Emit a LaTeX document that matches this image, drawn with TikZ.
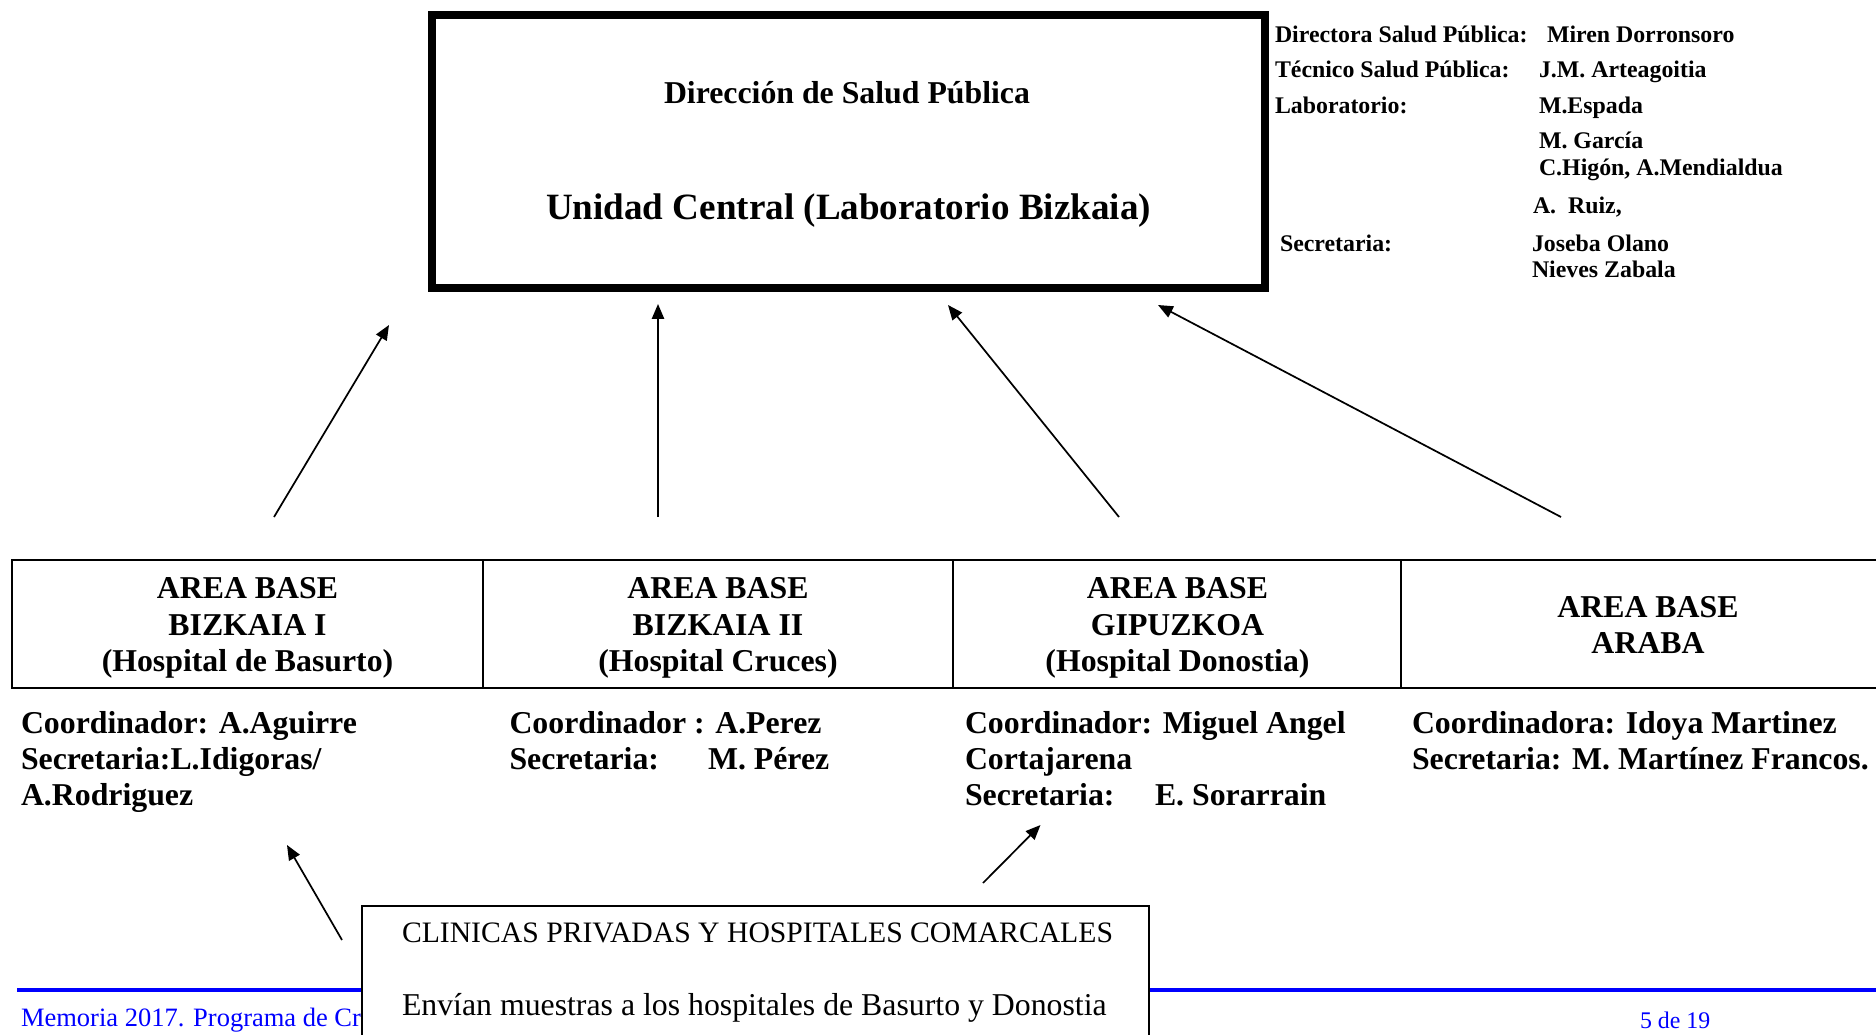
\documentclass[tikz,border=0pt]{standalone}
\usepackage{fontspec}
\setmainfont{Liberation Serif}
\usetikzlibrary{arrows.meta}
\definecolor{footblue}{RGB}{0,0,255}
\begin{document}
\begin{tikzpicture}[x=0.3774pt,y=-0.3774pt,
  every node/.style={inner sep=0pt,outer sep=0pt},
  frame/.style={draw,line width=3pt},
  cellbox/.style={draw,line width=0.75pt,minimum height=48.3pt},
  lowbox/.style={draw,line width=0.75pt,fill=white},
  info/.style={font=\fontsize{9}{10}\selectfont\bfseries,anchor=base west},
  celltxt/.style={font=\fontsize{12}{14}\selectfont\bfseries,anchor=base},
  coord/.style={font=\fontsize{12}{14}\selectfont\bfseries,anchor=base west},
  lowtxt/.style={anchor=base west},
  foot/.style={text=footblue,anchor=base west},
  arr/.style={line width=0.65pt,-{Triangle[length=5.6pt,width=4.6pt]}}]
\useasboundingbox (0,0) rectangle (1876,1034);

% top box
\node[frame,minimum width=314.4pt,minimum height=102.7pt] (top) at (848.5,151.5) {};
\node[celltxt] (dir) at (847,103) {Dirección de Salud Pública};
\node[celltxt,font=\fontsize{14}{16}\selectfont\bfseries] (uc) at (848.5,219) {Unidad Central (Laboratorio Bizkaia)};

% info block
\node[info] (i1a) at (1275,42) {Directora Salud Pública:};
\node[info] (i1b) at (1547,42) {Miren Dorronsoro};
\node[info] (i2a) at (1275,77) {Técnico Salud Pública:};
\node[info] (i2b) at (1539,77) {J.M. Arteagoitia};
\node[info] (i3a) at (1275,113) {Laboratorio:};
\node[info] (i3b) at (1539,113) {M.Espada};
\node[info] (i4) at (1539,148) {M. García};
\node[info] (i5) at (1539,175) {C.Higón, A.Mendialdua};
\node[info] (i6) at (1533,213) {A.\ \ Ruiz,};
\node[info] (i7a) at (1280,251) {Secretaria:};
\node[info] (i7b) at (1532,251) {Joseba Olano};
\node[info] (i8) at (1532,277) {Nieves Zabala};

% area cells
\node[cellbox,minimum width=177.6pt] (c1) at (247.5,624) {};
\node[cellbox,minimum width=177.6pt] (c2) at (718,624) {};
\node[cellbox,minimum width=169.1pt] (c3) at (1177,624) {};
\node[cellbox,minimum width=186.4pt] (c4) at (1648,624) {};

\node[celltxt] (c1l1) at (247.5,598) {AREA BASE};
\node[celltxt] (c1l2) at (247.5,635) {BIZKAIA I};
\node[celltxt] (c1l3) at (247.5,671) {(Hospital de Basurto)};
\node[celltxt] (c2l1) at (718,598) {AREA BASE};
\node[celltxt] (c2l2) at (718,635) {BIZKAIA II};
\node[celltxt] (c2l3) at (718,671) {(Hospital Cruces)};
\node[celltxt] (c3l1) at (1177.5,598) {AREA BASE};
\node[celltxt] (c3l2) at (1177.5,635) {GIPUZKOA};
\node[celltxt] (c3l3) at (1177.5,671) {(Hospital Donostia)};
\node[celltxt] (c4l1) at (1648,617) {AREA BASE};
\node[celltxt] (c4l2) at (1648,653) {ARABA};

% coordinators
\node[coord] (k1a) at (21,733) {Coordinador: A.Aguirre};
\node[coord] (k1b) at (21,769) {Secretaria:L.Idigoras/};
\node[coord] (k1c) at (21,805) {A.Rodriguez};
\node[coord] (k2a) at (509.5,733) {Coordinador : A.Perez};
\node[coord] (k2b) at (509.5,769) {Secretaria:};
\node[coord] (k2c) at (708,769) {M. Pérez};
\node[coord] (k3a) at (965,733) {Coordinador: Miguel Angel};
\node[coord] (k3b) at (965,769) {Cortajarena};
\node[coord] (k3c) at (965,805) {Secretaria:};
\node[coord] (k3d) at (1155,805) {E. Sorarrain};
\node[coord] (k4a) at (1412,733) {Coordinadora: Idoya Martinez};
\node[coord] (k4b) at (1412,769) {Secretaria: M. Martínez Francos.};

% arrows
\coordinate (a1s) at (274,517); \coordinate (a1e) at (389,325);
\coordinate (a2s) at (658,517); \coordinate (a2e) at (658,304);
\coordinate (a3s) at (1119,517); \coordinate (a3e) at (948,305);
\coordinate (a4s) at (1561,517); \coordinate (a4e) at (1158,305);
\coordinate (a5s) at (342,940); \coordinate (a5e) at (287,845);
\coordinate (a6s) at (983,883); \coordinate (a6e) at (1040.5,825);
\draw[arr] (a1s) -- (a1e);
\draw[arr] (a2s) -- (a2e);
\draw[arr] (a3s) -- (a3e);
\draw[arr] (a4s) -- (a4e);
\draw[arr] (a5s) -- (a5e);
\draw[arr] (a6s) -- (a6e);

% footer
\coordinate (fl) at (17,990); \coordinate (fr) at (1880,990);
\draw[footblue,line width=1.5pt] (fl) -- (fr);
\node[foot,font=\fontsize{10}{12}\selectfont] (mem) at (21,1026) {Memoria 2017. Programa de Cr};
\node[foot,font=\fontsize{9}{11}\selectfont] (pg) at (1640,1028) {5 de 19};

% bottom box
\node[lowbox,minimum width=297pt,minimum height=73.2pt] (low) at (755.5,1003) {};
\node[lowtxt,font=\fontsize{11.2}{13}\selectfont] (lw1) at (402,942) {CLINICAS PRIVADAS Y HOSPITALES COMARCALES};
\node[lowtxt,font=\fontsize{12}{14}\selectfont] (lw2) at (402,1015) {Envían muestras a los hospitales de Basurto y Donostia};
\end{tikzpicture}
\end{document}
